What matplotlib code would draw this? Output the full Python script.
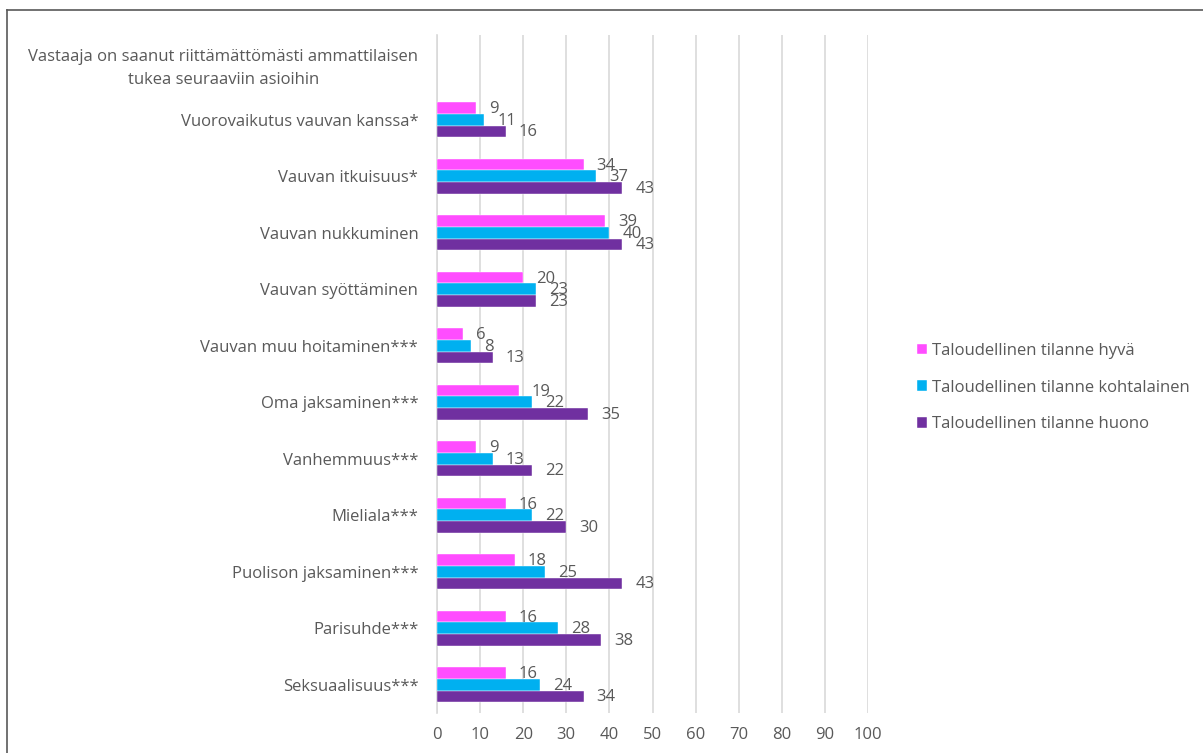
import numpy as np
import matplotlib
matplotlib.use("Agg")
import matplotlib.pyplot as plt
from matplotlib.lines import Line2D

plt.rcParams['font.family'] = ['Open Sans', 'DejaVu Sans']

header = "Vastaaja on saanut riittämättömästi ammattilaisen\ntukea seuraaviin asioihin"
categories = [
    "Vuorovaikutus vauvan kanssa*",
    "Vauvan itkuisuus*",
    "Vauvan nukkuminen",
    "Vauvan syöttäminen",
    "Vauvan muu hoitaminen***",
    "Oma jaksaminen***",
    "Vanhemmuus***",
    "Mieliala***",
    "Puolison jaksaminen***",
    "Parisuhde***",
    "Seksuaalisuus***",
]
hyva = [9, 34, 39, 20, 6, 19, 9, 16, 18, 16, 16]
kohtalainen = [11, 37, 40, 23, 8, 22, 13, 22, 25, 28, 24]
huono = [16, 43, 43, 23, 13, 35, 22, 30, 43, 38, 34]
series_names = ["Taloudellinen tilanne hyvä",
                "Taloudellinen tilanne kohtalainen",
                "Taloudellinen tilanne huono"]
colors = ["#FF4DFF", "#00B0F0", "#7030A0"]
xticks = [0, 10, 20, 30, 40, 50, 60, 70, 80, 90, 100]

text_col = "#595959"
grid_col = "#D9D9D9"
fs = 12

W, H = 1203, 753
fig = plt.figure(figsize=(W / 100, H / 100), dpi=100)
ax = fig.add_axes([437 / W, 1 - 713 / H, (868 - 437) / W, (713 - 35) / H])

n = len(categories)
ypos = np.arange(n)[::-1].astype(float)  # first category near top
bh = 0.207
offsets = [bh, 0.0, -bh]
all_series = [hyva, kohtalainen, huono]

for vals, off, col, name in zip(all_series, offsets, colors, series_names):
    bars = ax.barh(ypos + off, vals, height=bh, color=col, label=name,
                   edgecolor='white', linewidth=0.3, zorder=3)
    for b, v in zip(bars, vals):
        ax.annotate(str(v), (b.get_width(), b.get_y() + b.get_height() / 2),
                    xytext=(13, -1), textcoords='offset pixels',
                    ha='left', va='center', fontsize=fs, color=text_col,
                    zorder=4)

ax.set_xlim(0, 100)
ax.set_ylim(-0.5, n + 0.5)
ax.set_xticks(xticks)
ax.set_xticklabels([str(t) for t in xticks])
ax.set_yticks(list(ypos) + [n])
labels = ax.set_yticklabels(categories + [header])
labels[-1].set_multialignment('center')
labels[-1].set_linespacing(1.6)
ax.tick_params(axis='both', length=0, labelsize=fs, colors=text_col)
ax.tick_params(axis='y', pad=13.5)
ax.tick_params(axis='x', pad=10)
ax.xaxis.grid(True, color=grid_col, linewidth=1.2, zorder=0)
ax.set_axisbelow(True)
for s in ['top', 'right', 'bottom']:
    ax.spines[s].set_visible(False)
ax.spines['left'].set_color(grid_col)
ax.spines['left'].set_linewidth(1.2)

fig.legend(loc='upper left', bbox_to_anchor=(910 / W, 1 - 336 / H),
           frameon=False, fontsize=fs, labelcolor=text_col,
           handlelength=0.6, handleheight=0.6, handletextpad=0.3,
           labelspacing=1.25, borderaxespad=0)

# outer chart border (left and top visible)
fig.add_artist(Line2D([7 / W, 7 / W], [0, 1 - 10 / H], color="#595959",
                      linewidth=1.2, transform=fig.transFigure))
fig.add_artist(Line2D([7 / W, 1], [1 - 10 / H, 1 - 10 / H], color="#595959",
                      linewidth=1.2, transform=fig.transFigure))

fig.savefig("out.png", dpi=100, facecolor='white')
